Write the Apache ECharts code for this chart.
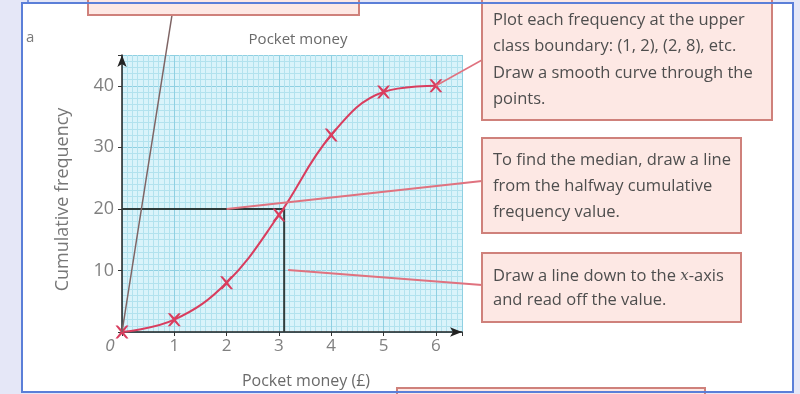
<!DOCTYPE html>
<html>
<head>
<meta charset="utf-8">
<script src="https://cdn.jsdelivr.net/npm/echarts@6/dist/echarts.min.js"></script>
<style>
  html, body { margin: 0; padding: 0; background: #e5e7f7; }
  #chart { width: 800px; height: 394px; }
</style>
</head>
<body>
<div id="chart"></div>
<script>
// Cumulative frequency of pocket money, plotted at upper class boundaries
const boundaries = [0, 1, 2, 3, 4, 5, 6];
const cumulativeFreq = [0, 2, 8, 19, 32, 39, 40];
const halfway = 20;          // half of the total frequency
const median = 3.1;
const xTicks = [0, 1, 2, 3, 4, 5, 6];
const yTicks = [10, 20, 30, 40];

const noteTop = ['Plot each frequency at the upper', 'class boundary: (1, 2), (2, 8), etc.', 'Draw a smooth curve through the', 'points.'];
const noteMedian = ['To find the median, draw a line', 'from the halfway cumulative', 'frequency value.'];
const noteDown = ['Draw a line down to the {i|x}-axis', 'and read off the value.'];

const RED = '#d93d5e';
const PINK_LINE = '#e0727f';
const TXT = '#4e4e4e';
const FONT = '"Open Sans", "Noto Sans", sans-serif';

const chart = echarts.init(document.getElementById('chart'));

const crossPath = 'path://M0,0 L1.8,0 L5,3.4 L8.2,0 L10,0 L6.1,5 L10,10 L8.2,10 L5,6.6 L1.8,10 L0,10 L3.9,5 Z';

const curve = boundaries.map((b, i) => [b, cumulativeFreq[i]]);
const medianPath = [[0, halfway], [median, halfway], [median, 0]];

chart.setOption({
  animation: false,
  backgroundColor: '#e5e7f7',
  title: {
    text: 'Pocket money',
    left: 293, top: 27, textAlign: 'center',
    textStyle: { fontFamily: FONT, fontSize: 15, fontWeight: 'normal', color: '#6a6a6a' }
  },
  grid: {
    left: 122, top: 55, width: 340, height: 277,
    show: true, backgroundColor: '#d9f3fa', borderWidth: 0
  },
  xAxis: {
    type: 'value', min: 0, max: 6.5, interval: 1,
    name: 'Pocket money (£)', nameLocation: 'middle', nameGap: 41,
    nameTextStyle: { fontFamily: FONT, fontSize: 16, color: '#6a6a6a', padding: [0, 0, 0, 28] },
    axisLine: { show: true, lineStyle: { color: '#222', width: 1.5 }, symbol: ['none', 'arrow'], symbolSize: [7, 12] },
    axisTick: { show: true, length: 4, lineStyle: { color: '#333' } },
    axisLabel: {
      margin: 6, color: '#808080', fontFamily: FONT, fontSize: 17,
      formatter: v => (v === 0 ? '{o|' + xTicks[0] + '}' : (xTicks.indexOf(v) >= 0 ? String(v) : '')),
      rich: { o: { fontStyle: 'italic', fontFamily: FONT, fontSize: 17, color: '#808080', padding: [0, 24, 0, 0] } }
    },
    splitLine: { show: true, lineStyle: { color: '#8fd0e2', width: 1 } },
    minorTick: { show: false, splitNumber: 10 },
    minorSplitLine: { show: true, lineStyle: { color: '#b2e2ee', width: 1 } }
  },
  yAxis: {
    type: 'value', min: 0, max: 45, interval: 10,
    name: 'Cumulative frequency', nameLocation: 'middle', nameGap: 50, nameRotate: 90,
    nameTextStyle: { fontFamily: FONT, fontSize: 18, color: '#777777', padding: [0, 12, 0, 0] },
    axisLine: { show: true, lineStyle: { color: '#222', width: 1.5 }, symbol: ['none', 'arrow'], symbolSize: [7, 12] },
    axisTick: { show: true, length: 4, lineStyle: { color: '#333' } },
    axisLabel: {
      margin: 8, color: '#808080', fontFamily: FONT, fontSize: 18,
      formatter: v => (yTicks.indexOf(v) >= 0 ? String(v) : '')
    },
    splitLine: { show: true, lineStyle: { color: '#8fd0e2', width: 1 } },
    minorTick: { show: false, splitNumber: 10 },
    minorSplitLine: { show: true, lineStyle: { color: '#b2e2ee', width: 1 } }
  },
  series: [
    {
      name: 'median', type: 'line', data: medianPath, symbol: 'none',
      lineStyle: { color: '#2f3b3b', width: 2 }, z: 3
    },
    {
      name: 'cumulative', type: 'line', data: curve, smooth: 0.4,
      symbol: crossPath, symbolSize: 13, showAllSymbol: true,
      itemStyle: { color: RED },
      lineStyle: { color: RED, width: 2 }, z: 4
    }
  ]
});

// Annotation boxes and their leader lines
const P = (x, y) => chart.convertToPixel({ gridIndex: 0 }, [x, y]);
const origin = P(boundaries[0], cumulativeFreq[0]);
const lastPt = P(boundaries[6], cumulativeFreq[6]);
const halfStart = P(2, halfway);
const downPt = P(median, 10);

function box(x, y, w, h) {
  return {
    type: 'rect', shape: { x: x, y: y, width: w, height: h },
    style: { fill: '#fde8e4', stroke: '#cf817b', lineWidth: 2 }, z: 10
  };
}
function lines(arr, x, y0, step) {
  return arr.map((t, i) => ({
    type: 'text', x: x, y: y0 + i * step, z: 11,
    style: {
      text: t, fill: TXT, font: '16.5px ' + FONT, verticalAlign: 'middle',
      rich: { i: { fontStyle: 'italic', fontFamily: 'DejaVu Serif, serif', fontSize: 15, fill: TXT } }
    }
  }));
}
function lead(a, b, color, w) {
  return { type: 'line', shape: { x1: a[0], y1: a[1], x2: b[0], y2: b[1] }, style: { stroke: color, lineWidth: w }, z: 9 };
}

chart.setOption({
  graphic: [
    // white page panel
    { type: 'rect', shape: { x: 22, y: 3, width: 771, height: 389 }, style: { fill: 'none', stroke: '#5b7fd8', lineWidth: 2 }, z: 20 },
    { type: 'rect', shape: { x: 22, y: 3, width: 771, height: 389 }, style: { fill: '#ffffff' }, z: -10, silent: true },
    { type: 'line', shape: { x1: 28, y1: 0, x2: 28, y2: 3 }, style: { stroke: '#5b7fd8', lineWidth: 1.5 }, z: 20 },
    { type: 'text', x: 26, y: 38, style: { text: 'a', fill: '#7a7a7a', font: '15px ' + FONT, verticalAlign: 'middle' }, z: 11 },

    box(88, -30, 271, 45),
    lead([172, 15], origin, '#7e6464', 1.5),

    box(482, -10, 290, 130),
    ...lines(noteTop, 493, 20, 26.5),
    lead(lastPt, [482, 60], PINK_LINE, 1.5),

    box(482, 138, 259, 95),
    ...lines(noteMedian, 493, 160, 26),
    lead(halfStart, [482, 181], PINK_LINE, 2),

    box(482, 253, 259, 69),
    ...lines(noteDown, 493, 276, 24),
    lead([downPt[0] + 4, 270], [482, 285], PINK_LINE, 2),

    box(397, 388, 308, 30)
  ]
});
</script>
</body>
</html>
